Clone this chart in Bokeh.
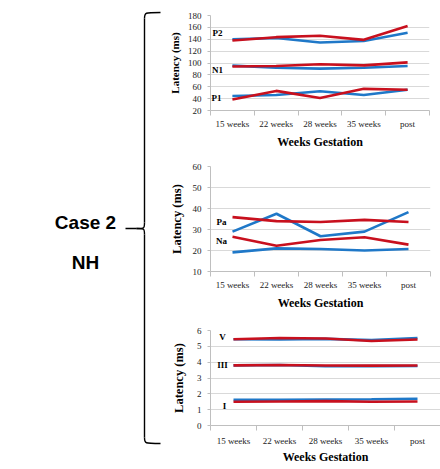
from bokeh.plotting import figure
from bokeh.layouts import row, column
from bokeh.models import Range1d, FixedTicker, SingleIntervalTicker, Label
from bokeh.core.properties import value
from bokeh.embed import file_html
from bokeh.resources import INLINE

# ---------------- data ----------------
weeks = ["15 weeks", "22 weeks", "28 weeks", "35 weeks", "post"]

# panel 1: P1, N1, P2 (ms)
p2_blue = [140, 142, 134.5, 137, 151]
p2_red = [138, 143.5, 146, 139, 162.5]
n1_blue = [95.5, 92, 90.5, 92, 95]
n1_red = [94, 95, 98, 96, 101]
p1_blue = [44.5, 46, 52.5, 46, 55]
p1_red = [38.5, 53, 41, 56.5, 55]

# panel 2: Na, Pa (ms)
pa_blue = [29, 37.5, 26.8, 29, 38.3]
pa_red = [35.9, 34, 33.6, 34.6, 33.6]
na_blue = [19.1, 21, 20.7, 20, 20.7]
na_red = [26.5, 22.3, 25, 26.3, 22.8]

# panel 3: I, III, V (ms)
v_blue = [5.45, 5.43, 5.47, 5.39, 5.53]
v_red = [5.45, 5.53, 5.49, 5.34, 5.43]
iii_blue = [3.8, 3.82, 3.74, 3.75, 3.76]
iii_red = [3.8, 3.82, 3.79, 3.78, 3.79]
i_blue = [1.62, 1.62, 1.64, 1.66, 1.69]
i_red = [1.5, 1.52, 1.54, 1.5, 1.52]

BLUE = "#1f78c8"
RED = "#c8101e"
SERIF = "Liberation Serif"

x_idx = list(range(len(weeks)))


def panel(fw, fh, top, left, right, bottom, y0, y1, step, blues, reds, labels,
          ylab_size, ylab_standoff, xlab_standoff, xtitle_standoff):
    p = figure(frame_width=fw, frame_height=fh, x_range=Range1d(-0.5, len(weeks) - 0.5),
               y_range=Range1d(y0, y1), output_backend="svg", toolbar_location=None,
               min_border_top=top, min_border_left=left, min_border_right=right,
               min_border_bottom=bottom)
    p.outline_line_color = None
    p.xgrid.grid_line_color = None
    p.ygrid.grid_line_color = "#d9d9d9"
    p.ygrid.grid_line_width = 1

    xa = p.xaxis[0]
    xa.ticker = FixedTicker(ticks=x_idx, minor_ticks=[i - 0.5 for i in range(len(weeks) + 1)])
    xa.major_label_overrides = {i: w for i, w in enumerate(weeks)}
    xa.major_tick_line_color = None
    xa.major_tick_out = 0
    xa.major_tick_in = 0
    xa.minor_tick_line_color = "#bfbfbf"
    xa.minor_tick_out = 5
    xa.minor_tick_in = 0
    xa.axis_line_color = "#bfbfbf"
    xa.major_label_text_font = SERIF
    xa.major_label_text_font_size = "9px"
    xa.major_label_text_color = "#222222"
    xa.major_label_standoff = xlab_standoff
    xa.axis_label = "Weeks Gestation"
    xa.axis_label_text_font = SERIF
    xa.axis_label_text_font_style = "bold"
    xa.axis_label_text_font_size = "12px"
    xa.axis_label_text_color = "#000000"
    xa.axis_label_standoff = xtitle_standoff

    ya = p.yaxis[0]
    ya.ticker = SingleIntervalTicker(interval=step)
    ya.axis_line_color = "#bfbfbf"
    ya.major_tick_line_color = "#bfbfbf"
    ya.major_tick_out = 3
    ya.major_tick_in = 0
    ya.minor_tick_line_color = None
    ya.major_label_text_font = SERIF
    ya.major_label_text_font_size = "9px"
    ya.major_label_text_color = "#222222"
    ya.major_label_standoff = 5
    ya.axis_label = "Latency (ms)"
    ya.axis_label_text_font = SERIF
    ya.axis_label_text_font_style = "bold"
    ya.axis_label_text_font_size = ylab_size
    ya.axis_label_text_color = "#000000"
    ya.axis_label_standoff = ylab_standoff

    for s in blues:
        p.line(x_idx, s, line_color=BLUE, line_width=2.6)
    for s in reds:
        p.line(x_idx, s, line_color=RED, line_width=2.6)

    for txt, yv, xoff in labels:
        p.add_layout(Label(x=0, y=yv, x_offset=xoff, text=txt, text_font=SERIF,
                           text_font_style="bold", text_font_size="9px",
                           text_align="center", text_baseline="middle",
                           text_color="#000000"))
    return p


p1 = panel(219, 95, 15, 46, 11, 37, 20, 180, 20,
           [p2_blue, n1_blue, p1_blue], [p2_red, n1_red, p1_red],
           [("P2", 151, -15), ("N1", 89, -15), ("P1", 41, -16)], "11px", 4, 3, 3)
p2 = panel(220, 105, 15, 45, 11, 37, 10, 60, 10,
           [pa_blue, na_blue], [pa_red, na_red],
           [("Pa", 33.8, -11), ("Na", 24.3, -11)], "12.5px", 6, 3, 3)
p3 = panel(230, 95, 18, 39, 7, 37, 0, 6, 1,
           [v_blue, iii_blue, i_blue], [v_red, iii_red, i_red],
           [("V", 5.56, -11), ("III", 3.79, -11), ("I", 1.26, -9)], "12.5px", 8, 5, 1)

# ---------------- left brace and case label ----------------
left = figure(width=164, height=469, x_range=Range1d(0, 164), y_range=Range1d(469, 0),
              output_backend="svg", toolbar_location=None, x_axis_type=None,
              y_axis_type=None, min_border=0)
left.outline_line_color = None
left.xgrid.grid_line_color = None
left.ygrid.grid_line_color = None

bx = 144
lw = 1.4
left.bezier(x0=[160], y0=[12], x1=[bx], y1=[18], cx0=[bx], cy0=[12], cx1=[bx], cy1=[12],
            line_color="black", line_width=lw)
left.line([bx, bx], [18, 222], line_color="black", line_width=lw)
left.bezier(x0=[bx], y0=[222], x1=[136], y1=[228], cx0=[bx], cy0=[228], cx1=[bx], cy1=[228],
            line_color="black", line_width=lw)
left.line([136, 125], [228, 228], line_color="black", line_width=lw)
left.bezier(x0=[136], y0=[228], x1=[bx], y1=[234], cx0=[bx], cy0=[228], cx1=[bx], cy1=[228],
            line_color="black", line_width=lw)
left.line([bx, bx], [234, 437], line_color="black", line_width=lw)
left.bezier(x0=[bx], y0=[437], x1=[160], y1=[443], cx0=[bx], cy0=[443], cx1=[bx], cy1=[443],
            line_color="black", line_width=lw)

left.text(x=[85, 85], y=[222, 262], text=["Case 2", "NH"],
          text_font=value("Liberation Sans"), text_font_style="bold",
          text_font_size="19px", text_align="center", text_baseline="middle",
          text_color="black")

layout = row(left, column(p1, p2, p3))

with open("out.html", "w") as f:
    f.write(file_html(layout, INLINE))
